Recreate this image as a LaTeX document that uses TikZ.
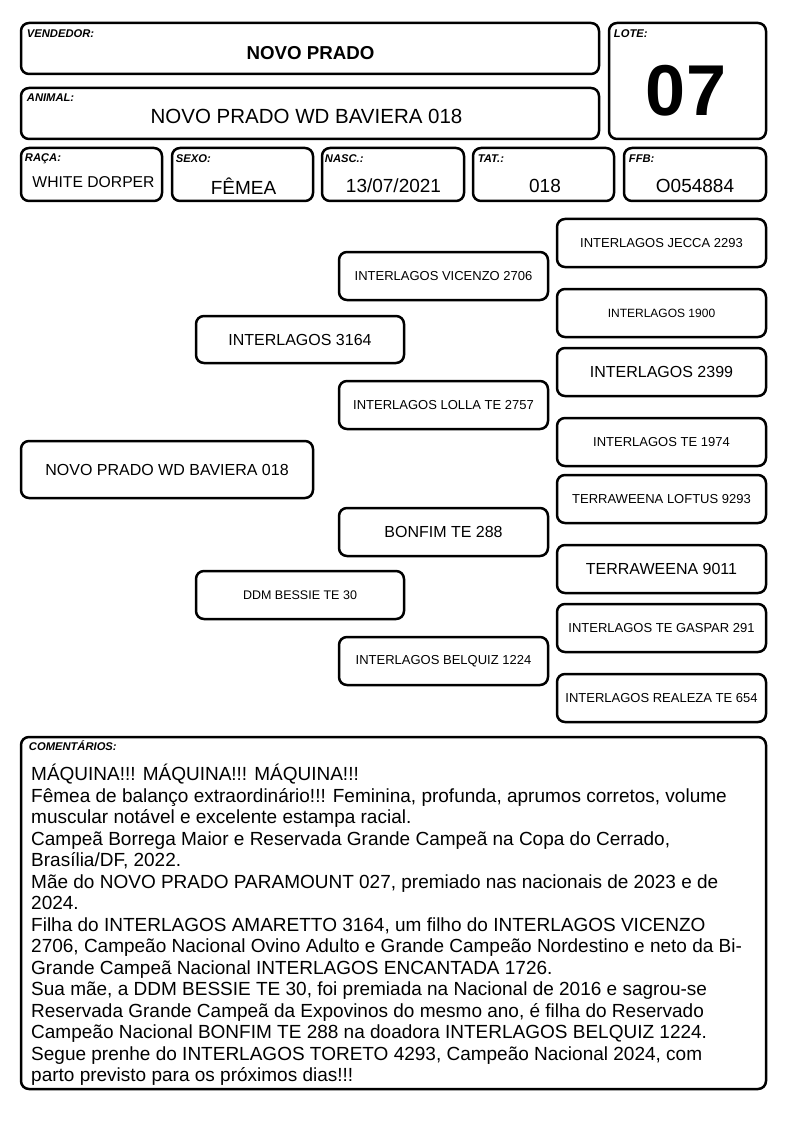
\documentclass[tikz,border=0pt]{standalone}
\usepackage{fontspec}
\setmainfont{Liberation Sans}
\begin{document}
\begin{tikzpicture}[x=1pt,y=-1pt,
  box/.style={draw=black, line width=2.5pt, rounded corners=8pt, inner sep=0pt, fill=white},
  lbl/.style={anchor=base west, inner sep=0pt, font=\fontsize{11.2}{13}\selectfont\bfseries\itshape},
  val/.style={inner sep=0pt, font=\fontsize{19}{22}\selectfont},
  pbox/.style={box, minimum width=209pt, minimum height=48pt, align=center},
  ps/.style={font=\fontsize{13}{15}\selectfont},
  pl/.style={font=\fontsize{16}{18}\selectfont}]
\useasboundingbox (0,0) rectangle (794,1123);
\fill[white] (0,0) rectangle (794,1123);
% header boxes
\node[box, minimum width=578pt, minimum height=51pt] (vend) at (310,48.5) {};
\node[box, minimum width=157pt, minimum height=116pt] (lote) at (687.5,81) {};
\node[box, minimum width=578pt, minimum height=51pt] (animal) at (310,113.5) {};
\node[box, minimum width=141pt, minimum height=53pt] (raca) at (91.5,174.5) {};
\node[box, minimum width=141pt, minimum height=53pt] (sexo) at (242.5,174.5) {};
\node[box, minimum width=142pt, minimum height=53pt] (nasc) at (393,174.5) {};
\node[box, minimum width=141pt, minimum height=53pt] (tat) at (543.5,174.5) {};
\node[box, minimum width=142pt, minimum height=53pt] (ffb) at (695,174.5) {};
% labels
\node[lbl] (lvend) at ([xshift=7pt,yshift=-15.5pt]vend.north west) {VENDEDOR:};
\node[lbl] (llote) at ([xshift=6pt,yshift=-15.5pt]lote.north west) {LOTE:};
\node[lbl] (lanimal) at ([xshift=7pt,yshift=-15pt]animal.north west) {ANIMAL:};
\node[lbl] (lraca) at ([xshift=5pt,yshift=-15pt]raca.north west) {RAÇA:};
\node[lbl] (lsexo) at ([xshift=5pt,yshift=-16pt]sexo.north west) {SEXO:};
\node[lbl] (lnasc) at ([xshift=4pt,yshift=-16pt]nasc.north west) {NASC.:};
\node[lbl] (ltat) at ([xshift=6pt,yshift=-16pt]tat.north west) {TAT.:};
\node[lbl] (lffb) at ([xshift=6pt,yshift=-16pt]ffb.north west) {FFB:};
% values
\node[inner sep=0pt, font=\fontsize{18.7}{21}\selectfont\bfseries] (vvend) at (310.5,53) {NOVO PRADO};
\node[inner sep=0pt, font=\fontsize{72}{80}\selectfont\bfseries] (vlote) at (686,91) {07};
\node[inner sep=0pt, font=\fontsize{20.5}{23}\selectfont] (vanimal) at (306.5,116) {NOVO PRADO WD BAVIERA 018};
\node[inner sep=0pt, font=\fontsize{15.7}{18}\selectfont] (vraca) at (93.5,182.5) {WHITE DORPER};
\node[val] (vsexo) at (243.5,186) {FÊMEA};
\node[val] (vnasc) at (393.5,186) {13/07/2021};
\node[val] (vtat) at (545,186) {018};
\node[val] (vffb) at (695,186) {O054884};
% pedigree
\node[pbox, ps] (p1) at (661.5,243) {INTERLAGOS JECCA 2293};
\node[pbox, ps] (p2) at (443.5,276) {INTERLAGOS VICENZO 2706};
\node[pbox, font=\fontsize{12}{14}\selectfont] (p3) at (661.5,313) {INTERLAGOS 1900};
\node[pbox, pl, minimum width=208pt, minimum height=47pt] (p4) at (300,339.5) {INTERLAGOS 3164};
\node[pbox, pl] (p5) at (661.5,372) {INTERLAGOS 2399};
\node[pbox, ps] (p6) at (443.5,405) {INTERLAGOS LOLLA TE 2757};
\node[pbox, ps] (p7) at (661.5,442) {INTERLAGOS TE 1974};
\node[pbox, pl, minimum width=292pt, minimum height=57pt] (p0) at (167,469.5) {NOVO PRADO WD BAVIERA 018};
\node[pbox, ps] (p8) at (661.5,499) {TERRAWEENA LOFTUS 9293};
\node[pbox, pl] (p9) at (443.5,532) {BONFIM TE 288};
\node[pbox, pl] (p10) at (661.5,569) {TERRAWEENA 9011};
\node[pbox, font=\fontsize{12.5}{14}\selectfont, minimum width=208pt] (p11) at (300,595) {DDM BESSIE TE 30};
\node[pbox, ps] (p12) at (661.5,628) {INTERLAGOS TE GASPAR 291};
\node[pbox, ps] (p13) at (443.5,661) {INTERLAGOS BELQUIZ 1224};
\node[pbox, ps] (p14) at (661.5,698) {INTERLAGOS REALEZA TE 654};
% comments
\node[box, minimum width=745pt, minimum height=352pt] (comm) at (393.5,913) {};
\node[lbl] (lcomm) at ([xshift=9pt,yshift=-15pt]comm.north west) {COMENTÁRIOS:};
\node[anchor=north west, inner sep=0pt, align=left, font=\fontsize{19}{21.5}\selectfont] (ctext) at (31,764) {%
MÁQUINA!!! MÁQUINA!!! MÁQUINA!!!\\
Fêmea de balanço extraordinário!!! Feminina, profunda, aprumos corretos, volume\\
muscular notável e excelente estampa racial.\\
Campeã Borrega Maior e Reservada Grande Campeã na Copa do Cerrado,\\
Brasília/DF, 2022.\\
Mãe do NOVO PRADO PARAMOUNT 027, premiado nas nacionais de 2023 e de\\
2024.\\
Filha do INTERLAGOS AMARETTO 3164, um filho do INTERLAGOS VICENZO\\
2706, Campeão Nacional Ovino Adulto e Grande Campeão Nordestino e neto da Bi-\\
Grande Campeã Nacional INTERLAGOS ENCANTADA 1726.\\
Sua mãe, a DDM BESSIE TE 30, foi premiada na Nacional de 2016 e sagrou-se\\
Reservada Grande Campeã da Expovinos do mesmo ano, é filha do Reservado\\
Campeão Nacional BONFIM TE 288 na doadora INTERLAGOS BELQUIZ 1224.\\
Segue prenhe do INTERLAGOS TORETO 4293, Campeão Nacional 2024, com\\
parto previsto para os próximos dias!!!};
\end{tikzpicture}
\end{document}
